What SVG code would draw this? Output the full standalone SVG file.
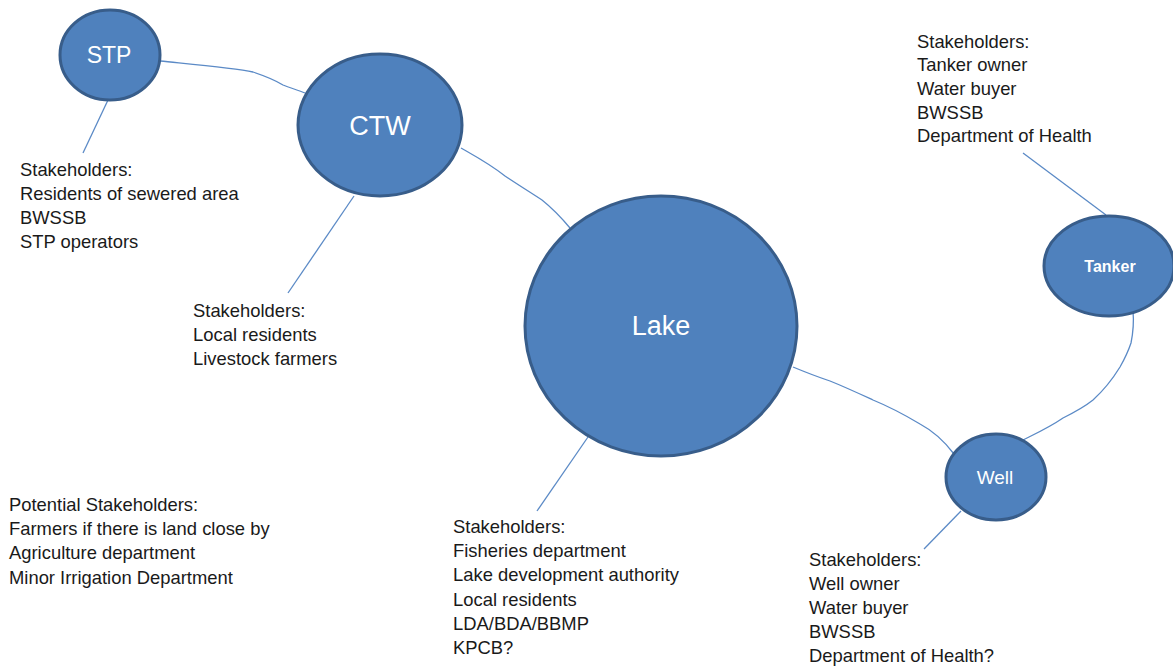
<svg xmlns="http://www.w3.org/2000/svg" width="1173" height="666" viewBox="0 0 1173 666">
  <style>
    .node { fill: #4f81bd; stroke: #385d8a; stroke-width: 3; }
    .label { fill: #ffffff; font-family: "Liberation Sans", Arial, sans-serif; text-anchor: middle; dominant-baseline: central; }
    .link { fill: none; stroke: #5b8ac6; stroke-width: 1.3; stroke-linejoin: round; }
    .note { fill: #1a1a1a; font-family: "Liberation Sans", Arial, sans-serif; font-size: 18.4px; }
  </style>
  <rect width="1173" height="666" fill="#ffffff"/>

  <!-- connectors between sites and leader lines to stakeholder lists -->
  <g id="connectors">
    <path class="link" d="M160,61 C200,65 235,68 253,72 C265,76 275,80 283,85 C290,88 298,90 305,93"/>
    <path class="link" d="M461,148 C475,156 490,164 505,176 C520,186 533,194 542,200 C552,208 560,216 570,228"/>
    <path class="link" d="M793,367 C805,372 818,377 830,381 C845,387 860,394 873,400 C890,407 905,415 920,424 C935,432 945,442 954,454"/>
    <path class="link" d="M1133,311 C1134,322 1133,333 1131,343 C1128,352 1124,360 1120,367 C1112,380 1104,390 1093,400 C1083,408 1073,413 1063,418 C1050,427 1037,433 1023,440"/>
    <line class="link" x1="108" y1="100" x2="83" y2="153"/>
    <line class="link" x1="354" y1="196" x2="288" y2="293"/>
    <line class="link" x1="588" y1="437" x2="537" y2="511"/>
    <line class="link" x1="961" y1="511" x2="924" y2="549"/>
    <line class="link" x1="1106" y1="215" x2="1023" y2="153"/>
  </g>

  <g id="node-stp">
    <ellipse class="node" cx="110" cy="55" rx="50" ry="45"/>
    <text class="label" x="109" y="55" font-size="23">STP</text>
  </g>

  <g id="node-ctw">
    <ellipse class="node" cx="380" cy="125" rx="82" ry="71"/>
    <text class="label" x="380" y="126" font-size="27">CTW</text>
  </g>

  <g id="node-lake">
    <ellipse class="node" cx="661" cy="326" rx="136" ry="130"/>
    <text class="label" x="661" y="326" font-size="27">Lake</text>
  </g>

  <g id="node-tanker">
    <ellipse class="node" cx="1109" cy="266" rx="65" ry="50"/>
    <text class="label" x="1110" y="266" font-size="16" font-weight="bold">Tanker</text>
  </g>

  <g id="node-well">
    <ellipse class="node" cx="996" cy="477" rx="50" ry="43"/>
    <text class="label" x="995" y="477" font-size="19">Well</text>
  </g>

  <g id="notes-stp">
    <text class="note" x="20" y="176">Stakeholders:</text>
    <text class="note" x="20" y="200">Residents of sewered area</text>
    <text class="note" x="20" y="224">BWSSB</text>
    <text class="note" x="20" y="248">STP operators</text>
  </g>

  <g id="notes-ctw">
    <text class="note" x="193" y="317">Stakeholders:</text>
    <text class="note" x="193" y="341">Local residents</text>
    <text class="note" x="193" y="365">Livestock farmers</text>
  </g>

  <g id="notes-tanker">
    <text class="note" x="917" y="48">Stakeholders:</text>
    <text class="note" x="917" y="71">Tanker owner</text>
    <text class="note" x="917" y="95">Water buyer</text>
    <text class="note" x="917" y="119">BWSSB</text>
    <text class="note" x="917" y="142">Department of Health</text>
  </g>

  <g id="notes-lake">
    <text class="note" x="453" y="533">Stakeholders:</text>
    <text class="note" x="453" y="557">Fisheries department</text>
    <text class="note" x="453" y="581">Lake development authority</text>
    <text class="note" x="453" y="606">Local residents</text>
    <text class="note" x="453" y="630">LDA/BDA/BBMP</text>
    <text class="note" x="453" y="654">KPCB?</text>
  </g>

  <g id="notes-well">
    <text class="note" x="809" y="566">Stakeholders:</text>
    <text class="note" x="809" y="590">Well owner</text>
    <text class="note" x="809" y="614">Water buyer</text>
    <text class="note" x="809" y="638">BWSSB</text>
    <text class="note" x="809" y="662">Department of Health?</text>
  </g>

  <g id="notes-potential">
    <text class="note" x="9" y="511">Potential Stakeholders:</text>
    <text class="note" x="9" y="535">Farmers if there is land close by</text>
    <text class="note" x="9" y="559">Agriculture department</text>
    <text class="note" x="9" y="584">Minor Irrigation Department</text>
  </g>
</svg>
